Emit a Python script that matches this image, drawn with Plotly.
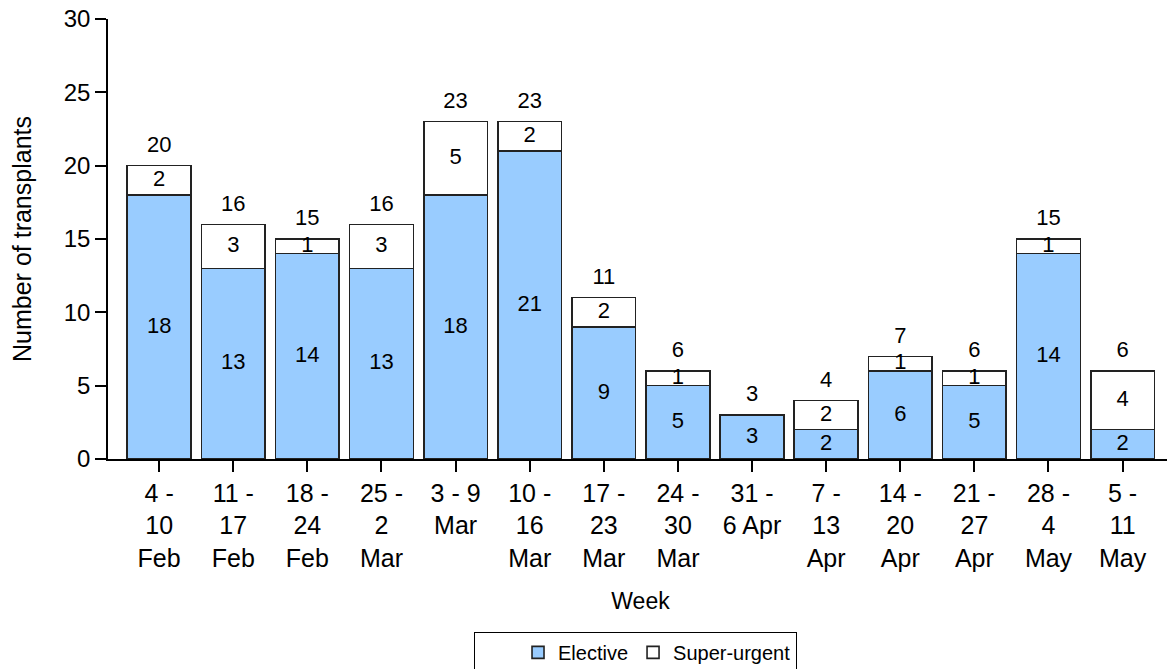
import plotly.graph_objects as go

weeks = ["4 -<br>10<br>Feb", "11 -<br>17<br>Feb", "18 -<br>24<br>Feb", "25 -<br>2<br>Mar",
         "3 - 9<br>Mar", "10 -<br>16<br>Mar", "17 -<br>23<br>Mar", "24 -<br>30<br>Mar",
         "31 -<br>6 Apr", "7 -<br>13<br>Apr", "14 -<br>20<br>Apr", "21 -<br>27<br>Apr",
         "28 -<br>4<br>May", "5 -<br>11<br>May"]
elective = [18, 13, 14, 13, 18, 21, 9, 5, 3, 2, 6, 5, 14, 2]
super_urgent = [2, 3, 1, 3, 5, 2, 2, 1, 0, 2, 1, 1, 1, 4]
y_ticks = [0, 5, 10, 15, 20, 25, 30]

totals = [e + s for e, s in zip(elective, super_urgent)]
idx = list(range(len(weeks)))

FONT = "Liberation Sans, Arial, sans-serif"
LINE = "#222222"
fs_lbl = 22

fig = go.Figure()
fig.add_trace(go.Bar(x=idx, y=elective, name="Elective", width=0.86,
                     marker=dict(color="#99CCFF", line=dict(color=LINE, width=1.6))))
fig.add_trace(go.Bar(x=idx, y=super_urgent, name="Super-urgent", width=0.86,
                     marker=dict(color="#FFFFFF", line=dict(color=LINE, width=1.6))))

# labels
fig.add_trace(go.Scatter(x=idx, y=[e / 2 for e in elective], mode="text",
                         text=[str(e) for e in elective], textposition="middle center",
                         textfont=dict(family=FONT, size=fs_lbl, color="#000"), showlegend=False,
                         hoverinfo="skip"))
su_x = [i for i in idx if super_urgent[i] > 0]
fig.add_trace(go.Scatter(x=su_x, y=[elective[i] + super_urgent[i] / 2 for i in su_x], mode="text",
                         text=[str(super_urgent[i]) for i in su_x], textposition="middle center",
                         textfont=dict(family=FONT, size=fs_lbl, color="#000"), showlegend=False,
                         hoverinfo="skip"))
fig.add_trace(go.Scatter(x=idx, y=[t + 1.3 for t in totals], mode="text",
                         text=[str(t) for t in totals], textposition="middle center",
                         textfont=dict(family=FONT, size=fs_lbl, color="#000"), showlegend=False,
                         hoverinfo="skip"))

fig.update_layout(
    barmode="stack",
    width=1167, height=690,
    margin=dict(l=100, r=2, t=11, b=239),
    plot_bgcolor="white", paper_bgcolor="white",
    font=dict(family=FONT, size=23, color="#000"),
    showlegend=True,
    legend=dict(orientation="h", x=0.495, xanchor="center", y=-0.393, yanchor="top",
                bordercolor="#000", borderwidth=1, font=dict(size=20),
                title=dict(text="&nbsp;" * 5, side="left"),
                traceorder="normal"),
    xaxis=dict(range=[-0.69, 13.68], tickmode="array", tickvals=idx, ticktext=weeks,
               showline=True, linecolor="#000", linewidth=1.5, ticks="outside",
               ticklen=11, tickwidth=1.5, tickcolor="#000", showgrid=False, zeroline=False,
               tickangle=0, automargin=False, tickfont=dict(size=25), ticklabelstandoff=0,
               title=dict(text="Week", standoff=22, font=dict(size=23))),
    yaxis=dict(range=[0, 30], tickmode="array", tickvals=y_ticks,
               showline=True, linecolor="#000", linewidth=1.5, ticks="outside",
               ticklen=11, tickwidth=1.5, tickcolor="#000", showgrid=False, zeroline=False,
               tickfont=dict(size=24), automargin=False, ticklabeloverflow="allow",
               title=dict(text="Number of transplants", standoff=26, font=dict(size=25))),
)

fig.write_html("out.html")
